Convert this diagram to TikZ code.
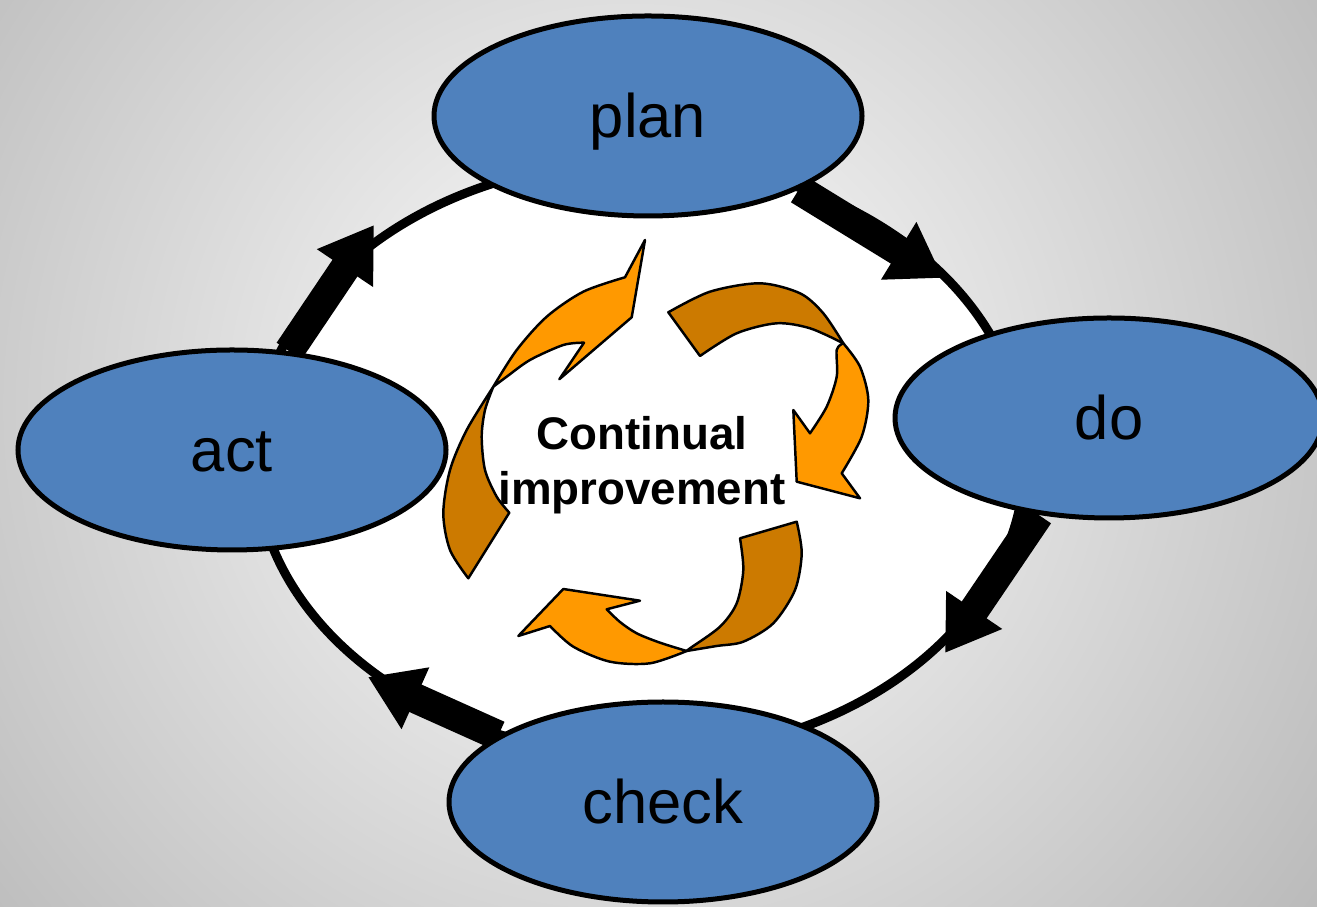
\documentclass[tikz,border=0pt]{standalone}
\usepackage{fontspec}
\setmainfont{Liberation Sans}
\usetikzlibrary{shapes.geometric,arrows.meta,backgrounds}
\definecolor{phaseblue}{HTML}{4F81BD}
\definecolor{lightorange}{HTML}{FF9900}
\definecolor{darkorange}{HTML}{CC7A00}

\begin{document}
\begin{tikzpicture}[
        phase/.style={ellipse, draw, line width=0.05cm, fill=phaseblue, inner sep=0pt,
            minimum width=4.28cm, minimum height=2.0cm, text height=15pt, text depth=3pt,
            font=\fontsize{17.5}{21}\selectfont},
        cyclearrow/.style={line width=0.3cm, -{Triangle[width=0.64cm, length=0.52cm]}},
        front/.style={fill=lightorange, draw, line width=0.7pt, line join=round},
        back/.style={fill=darkorange, draw, line width=0.7pt, line join=round}
    ]
    \useasboundingbox (0,0) rectangle (13.17,9.07);

    % PDCA phases
    \node[phase] (plan) at (6.48,7.91) {plan};
    \node[phase] (do) at (11.09,4.89) {do};
    \node[phase] (act) at (2.32,4.57) {act};
    \node[phase] (check) at (6.63,1.05) {check};

    \coordinate (intodo) at (9.43,6.29);
    \coordinate (intocheck) at (9.45,2.54);
    \coordinate (intoact) at (3.68,2.30);
    \coordinate (intoplan) at (3.74,6.82);

    \begin{pgfonlayer}{background}
        \clip (0,0) rectangle (13.17,9.07);
        \fill[gray!60] (0,0) rectangle (13.17,9.07);
        \shade[inner color=white, outer color=gray!60] (6.3,5.0) circle (9.5cm);
        \draw[line width=0.09cm, fill=white] (6.40,4.49) ellipse [x radius=3.85cm, y radius=2.97cm];
        % the cycle
        \draw[cyclearrow] (plan.-26) -- (intodo);
        \draw[cyclearrow] (do.-126) -- (intocheck);
        \draw[cyclearrow] (check.158) -- (intoact);
        \draw[cyclearrow] (act.60) -- (intoplan);
    \end{pgfonlayer}

    % circular arrows in the middle
    \path[back] (4.683,3.287) -- (5.093,3.943)
        -- plot[smooth] coordinates {(5.093,3.943) (4.967,4.103) (4.85,4.37) (4.817,4.703) (4.85,4.97) (4.933,5.203)}
        -- plot[smooth] coordinates {(4.933,5.203) (4.667,4.77) (4.5,4.37) (4.433,3.937) (4.5,3.57) (4.683,3.287)} -- cycle;
    \path[front] plot[smooth] coordinates {(4.933,5.203) (5.167,5.57) (5.467,5.903) (5.833,6.153) (6.25,6.297)}
        -- (6.45,6.67) -- (6.317,5.897) -- (5.593,5.277) -- (5.84,5.643)
        -- plot[smooth] coordinates {(5.84,5.643) (5.633,5.62) (5.3,5.47) (5.067,5.303) (4.933,5.203)} -- cycle;

    \path[back] (6.683,5.947) -- (7.0,5.51)
        -- plot[smooth] coordinates {(7.0,5.51) (7.367,5.737) (7.767,5.837) (8.1,5.787) (8.433,5.637)}
        -- plot[smooth] coordinates {(8.433,5.637) (8.233,5.937) (8.0,6.137) (7.6,6.237) (7.1,6.153) (6.683,5.947)} -- cycle;
    \path[front] plot[smooth] coordinates {(8.433,5.637) (8.6,5.403) (8.683,5.07) (8.617,4.703) (8.417,4.337)}
        -- (8.6,4.087) -- (7.967,4.253) -- (7.933,4.97) -- (8.1,4.737)
        -- plot[smooth] coordinates {(8.1,4.737) (8.267,5.003) (8.367,5.303) (8.367,5.57) (8.433,5.637)} -- cycle;

    \path[back] (7.967,3.853) -- (7.4,3.687)
        -- plot[smooth] coordinates {(7.4,3.687) (7.433,3.37) (7.367,3.037) (7.2,2.803) (6.9,2.587) (6.867,2.56)}
        -- plot[smooth] coordinates {(6.867,2.56) (7.167,2.61) (7.433,2.653) (7.733,2.837) (7.95,3.17) (8.017,3.537) (7.967,3.853)} -- cycle;
    \path[front] plot[smooth] coordinates {(6.867,2.56) (6.5,2.437) (6.1,2.453) (5.733,2.603) (5.5,2.81)}
        -- (5.183,2.71) -- (5.633,3.18) -- (6.4,3.063) -- (6.067,2.977)
        -- plot[smooth] coordinates {(6.067,2.977) (6.2,2.85) (6.367,2.737) (6.6,2.643) (6.867,2.56)} -- cycle;

    \node[font=\bfseries\fontsize{13}{15.6}\selectfont, align=center, inner sep=0pt] (improve) at (6.42,4.42) {Continual\\improvement};
\end{tikzpicture}
\end{document}
